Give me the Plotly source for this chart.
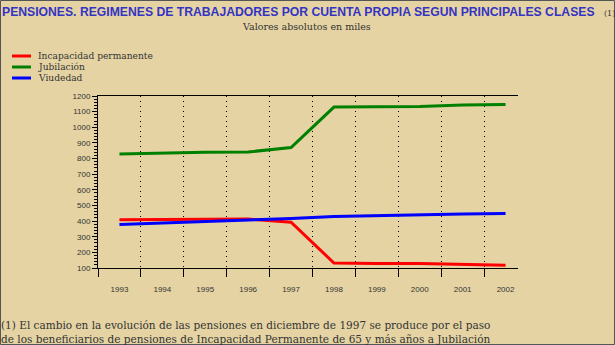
import plotly.graph_objects as go

years = [1993, 1994, 1995, 1996, 1997, 1998, 1999, 2000, 2001, 2002]
incapacidad = [408, 408, 412, 413, 393, 132, 128, 129, 122, 117]
jubilacion = [829, 836, 840, 842, 870, 1129, 1130, 1133, 1142, 1145]
viudedad = [378, 387, 400, 409, 417, 429, 435, 439, 445, 448]

series_names = ['Incapacidad permanente', 'Jubilación', 'Viudedad']
series_values = [incapacidad, jubilacion, viudedad]
series_colors = ['#ff0000', '#008000', '#0000ff']

title_text = 'PENSIONES. REGIMENES DE TRABAJADORES POR CUENTA PROPIA SEGUN PRINCIPALES CLASES'
subtitle_text = 'Valores absolutos en miles'
note_lines = [
    '(1) El cambio en la evolución de las pensiones en diciembre de 1997 se produce por el paso',
    'de los beneficiarios de pensiones de Incapacidad Permanente de 65 y más años a Jubilación',
]

W, H = 615, 345
L, R, T, B = 98, 97, 96, 77
PW, PH = W - L - R, H - T - B
BG = '#e5d3a3'
TXT = '#333333'
SERIF = 'DejaVu Serif'
SANS = 'Liberation Sans'


def px_x(x):
    return (x - L) / PW


def px_y(y):
    return 1 - (y - T) / PH


fig = go.Figure()
for name, vals, col in zip(series_names, series_values, series_colors):
    fig.add_trace(go.Scatter(
        x=years, y=vals, name=name, mode='lines',
        line={'color': col, 'width': 3},
        showlegend=False, hoverinfo='skip'
    ))

x_left = years[0] - 0.5
x_right = x_left + PW / 42.9
bounds = [y - 0.5 for y in years]

fig.update_xaxes(
    range=[x_left, x_right],
    tickmode='array', tickvals=years, ticktext=[str(y) for y in years],
    ticks='outside', ticklen=13, tickcolor='rgba(0,0,0,0)',
    tickfont={'family': SANS, 'size': 8, 'color': TXT},
    showgrid=False, zeroline=False,
    showline=True, linecolor='black', linewidth=1, mirror=True,
    minor={'tickmode': 'array', 'tickvals': bounds, 'ticks': 'outside',
           'ticklen': 8, 'tickcolor': 'black', 'showgrid': True,
           'gridcolor': 'black', 'griddash': '1px,4px', 'gridwidth': 1}
)

fig.update_yaxes(
    range=[100, 1200], dtick=100, tick0=100,
    ticks='outside', ticklen=5, tickcolor='black',
    tickfont={'family': SANS, 'size': 8, 'color': TXT},
    showgrid=False, zeroline=False,
    showline=True, linecolor='black', linewidth=1,
    minor={'dtick': 20, 'ticks': 'outside', 'ticklen': 3, 'tickcolor': 'black',
           'showgrid': False}
)

annotations = [
    dict(text=title_text, x=px_x(0), y=px_y(12), xanchor='left', yanchor='middle',
         font={'family': SANS, 'size': 12.2, 'color': '#3434c4', 'weight': 'bold'}),
    dict(text='(1)', x=px_x(602), y=px_y(13), xanchor='left', yanchor='middle',
         font={'family': SERIF, 'size': 8, 'color': TXT}),
    dict(text=subtitle_text, x=px_x(306), y=px_y(27), xanchor='center', yanchor='middle',
         font={'family': SERIF, 'size': 9.5, 'color': TXT}),
]
shapes = []
for i, (name, col) in enumerate(zip(series_names, series_colors)):
    yy = 56 + i * 11
    shapes.append(dict(type='line', xref='paper', yref='paper',
                       x0=px_x(12), x1=px_x(31), y0=px_y(yy), y1=px_y(yy),
                       line={'color': col, 'width': 3}))
    annotations.append(dict(text=name, x=px_x(36), y=px_y(yy), xanchor='left',
                            yanchor='middle',
                            font={'family': SERIF, 'size': 9.1, 'color': TXT}))
for i, line in enumerate(note_lines):
    annotations.append(dict(text=line, x=px_x(-1), y=px_y(325 + i * 14), xanchor='left',
                            yanchor='middle',
                            font={'family': SERIF, 'size': 10.5, 'color': TXT}))
for a in annotations:
    a.update(xref='paper', yref='paper', showarrow=False)

shapes.append(dict(type='rect', xref='paper', yref='paper',
                   x0=px_x(0.5), x1=px_x(W - 0.5), y0=px_y(0.5), y1=px_y(H - 0.5),
                   line={'color': '#555555', 'width': 1}))

fig.update_layout(
    width=W, height=H,
    margin={'l': L, 'r': R, 't': T, 'b': B, 'pad': 0},
    paper_bgcolor=BG, plot_bgcolor=BG,
    annotations=annotations, shapes=shapes,
    showlegend=False
)

fig.write_html('out.html', config={'displayModeBar': False},
               post_script="document.body.style.margin='0';document.body.style.overflow='hidden';")
